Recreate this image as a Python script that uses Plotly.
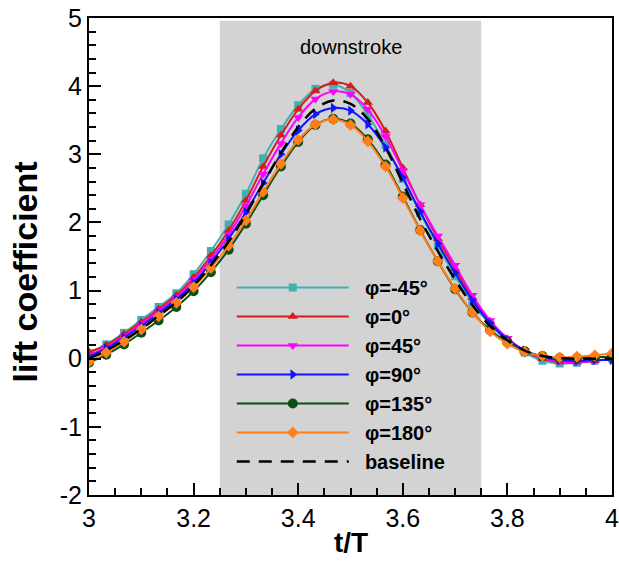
import plotly.graph_objects as go

t = [3.000, 3.033, 3.067, 3.100, 3.133, 3.167, 3.200, 3.233, 3.267, 3.300,
     3.333, 3.367, 3.400, 3.433, 3.467, 3.500, 3.533, 3.567, 3.600, 3.633,
     3.667, 3.700, 3.733, 3.767, 3.800, 3.833, 3.867, 3.900, 3.933, 3.967, 4.000]

cl_m45 = [0.08, 0.21, 0.38, 0.57, 0.76, 0.96, 1.24, 1.58, 1.97, 2.42,
          2.94, 3.37, 3.72, 3.96, 4.02, 3.90, 3.58, 3.14, 2.64, 2.14,
          1.66, 1.21, 0.82, 0.50, 0.26, 0.09, -0.03, -0.07, -0.06, -0.03, 0.00]
cl_0 = [0.10, 0.20, 0.36, 0.54, 0.73, 0.93, 1.19, 1.51, 1.88, 2.32,
        2.82, 3.28, 3.66, 3.93, 4.05, 4.00, 3.76, 3.34, 2.80, 2.26,
        1.76, 1.32, 0.90, 0.55, 0.29, 0.11, 0.00, -0.05, -0.05, -0.03, 0.00]
cl_45 = [0.05, 0.17, 0.33, 0.51, 0.70, 0.90, 1.15, 1.46, 1.82, 2.24,
         2.71, 3.16, 3.54, 3.81, 3.92, 3.88, 3.66, 3.26, 2.76, 2.26,
         1.80, 1.37, 0.93, 0.56, 0.30, 0.12, 0.01, -0.04, -0.05, -0.03, 0.00]
cl_90 = [0.03, 0.15, 0.31, 0.48, 0.67, 0.87, 1.11, 1.41, 1.76, 2.15,
         2.58, 3.00, 3.35, 3.59, 3.68, 3.64, 3.44, 3.10, 2.66, 2.16,
         1.69, 1.26, 0.86, 0.52, 0.28, 0.12, 0.03, -0.02, -0.03, -0.02, -0.02]
cl_135 = [-0.06, 0.06, 0.21, 0.38, 0.56, 0.76, 0.99, 1.27, 1.60, 1.98,
          2.40, 2.82, 3.18, 3.43, 3.52, 3.45, 3.22, 2.85, 2.38, 1.89,
          1.43, 1.02, 0.68, 0.42, 0.24, 0.11, 0.04, 0.01, 0.01, 0.02, 0.03]
cl_180 = [-0.05, 0.09, 0.25, 0.43, 0.62, 0.82, 1.05, 1.33, 1.66, 2.03,
          2.45, 2.86, 3.21, 3.44, 3.51, 3.43, 3.19, 2.82, 2.36, 1.88,
          1.43, 1.03, 0.68, 0.40, 0.22, 0.10, 0.04, 0.02, 0.03, 0.05, 0.08]
cl_base = [0.00, 0.12, 0.27, 0.44, 0.63, 0.83, 1.07, 1.37, 1.72, 2.12,
           2.57, 3.02, 3.40, 3.67, 3.79, 3.74, 3.52, 3.10, 2.58, 2.05,
           1.58, 1.16, 0.79, 0.48, 0.27, 0.12, 0.04, 0.01, 0.00, 0.00, 0.00]

y_tickvals = [-2, -1, 0, 1, 2, 3, 4, 5]
y_ticktext = ['-2', '-1', '0', '1', '2', '3', '4', '5']

series = [
    ('φ=-45°', cl_m45, 'rgb(64,176,176)', 'square', 8),
    ('φ=0°', cl_0, 'rgb(210,30,30)', 'triangle-up', 9),
    ('φ=45°', cl_45, 'rgb(255,0,255)', 'triangle-down', 9),
    ('φ=90°', cl_90, 'rgb(20,20,255)', 'triangle-right', 9),
    ('φ=135°', cl_135, 'rgb(10,80,20)', 'circle', 10),
    ('φ=180°', cl_180, 'rgb(255,127,26)', 'diamond', 9),
]

pad = '\u00a0\u00a0'  # a bit more room between legend line and label

fig = go.Figure()

for name, y, color, symbol, size in series:
    fig.add_trace(go.Scatter(
        x=t, y=y, name=pad + name, mode='lines+markers',
        line=dict(color=color, width=2, shape='spline'),
        marker=dict(symbol=symbol, size=size, color=color),
    ))

fig.add_trace(go.Scatter(
    x=t, y=cl_base, name=pad + 'baseline', mode='lines',
    line=dict(color='black', width=2.5, dash='13px,9px', shape='spline'),
))

# shaded downstroke interval
fig.add_shape(type='rect', xref='x', yref='y', x0=3.25, x1=3.75, y0=-2, y1=4.96,
              fillcolor='rgb(211,211,211)', line_width=0, layer='below')
fig.add_annotation(x=3.5, y=4.58, text='downstroke', showarrow=False,
                   font=dict(size=20, color='black'))

# axis titles
fig.add_annotation(xref='paper', yref='paper', x=-0.122, y=0.467, text='<b>lift coefficient</b>',
                   textangle=-90, showarrow=False, xanchor='center', yanchor='middle',
                   font=dict(size=34, color='black'))
fig.add_annotation(xref='paper', yref='paper', x=0.5, y=-0.10, text='<b>t/T</b>',
                   showarrow=False, xanchor='center', yanchor='middle',
                   font=dict(size=28, color='black'))

fig.update_layout(
    width=619, height=567,
    plot_bgcolor='white', paper_bgcolor='white',
    font=dict(family='Liberation Sans, Arial', color='black'),
    margin=dict(l=89, r=7, t=18, b=72, autoexpand=False),
    showlegend=True,
    legend=dict(
        x=0.273, y=0.476, xanchor='left', yanchor='top',
        bgcolor='rgba(0,0,0,0)',
        font=dict(size=20, color='black', weight='bold'),
        itemwidth=112,
        tracegroupgap=0,
    ),
    xaxis=dict(
        range=[3, 4], dtick=0.2, tick0=3, showgrid=False, zeroline=False,
        showline=True, linecolor='black', linewidth=2, mirror=True,
        ticks='inside', ticklen=12, tickwidth=2, tickcolor='black',
        minor=dict(dtick=0.05, ticks='inside', ticklen=7, tickwidth=2, tickcolor='black'),
        tickfont=dict(size=25), automargin=False, ticklabeloverflow='allow',
    ),
    yaxis=dict(
        range=[-2, 5], tickvals=y_tickvals, ticktext=y_ticktext,
        showgrid=False, zeroline=False,
        showline=True, linecolor='black', linewidth=2, mirror=True,
        ticks='inside', ticklen=12, tickwidth=2, tickcolor='black',
        minor=dict(dtick=0.2, ticks='inside', ticklen=7, tickwidth=2, tickcolor='black'),
        tickfont=dict(size=25), automargin=False, ticklabeloverflow='allow',
    ),
)

# drop the default body margin so the figure sits at the window corner
fig.write_html("out.html", config={'displayModeBar': False},
               post_script="document.body.style.margin='0';")
